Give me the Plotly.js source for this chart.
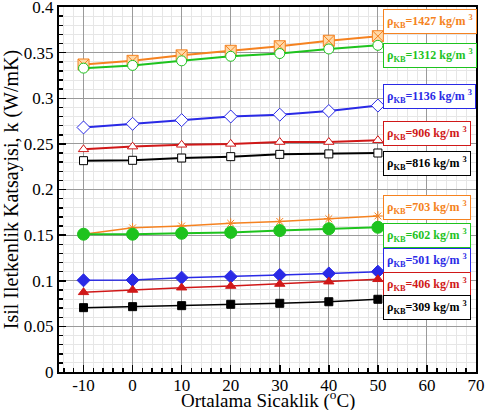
<!DOCTYPE html>
<html>
<head>
<meta charset="utf-8">
<script src="https://cdn.plot.ly/plotly-3.0.1.min.js"></script>
<style>html,body{margin:0;padding:0;background:#fff;}#chart{width:485px;height:410px;}</style>
</head>
<body>
<div id="chart"></div>
<script>
// Data
const temps = [-10, 0, 10, 20, 30, 40, 50];
const densities = [1427, 1312, 1136, 906, 816, 703, 602, 501, 406, 309];
const k1427 = [0.337, 0.341, 0.347, 0.352, 0.357, 0.363, 0.368];
const k1312 = [0.333, 0.336, 0.341, 0.346, 0.349, 0.354, 0.358];
const k1136 = [0.268, 0.272, 0.276, 0.280, 0.282, 0.286, 0.292];
const k906  = [0.244, 0.247, 0.249, 0.250, 0.252, 0.252, 0.254];
const k816  = [0.2316, 0.232, 0.2345, 0.236, 0.2385, 0.239, 0.240];
const k703  = [0.151, 0.158, 0.160, 0.163, 0.165, 0.168, 0.171];
const k602  = [0.151, 0.151, 0.152, 0.153, 0.155, 0.157, 0.1586];
const k501  = [0.1005, 0.1008, 0.1034, 0.1045, 0.1063, 0.108, 0.110];
const k406  = [0.0873, 0.0899, 0.0924, 0.0942, 0.0964, 0.099, 0.1016];
const k309  = [0.0705, 0.0716, 0.0727, 0.0742, 0.0753, 0.077, 0.0797];
const xTickVals = [-10, 0, 10, 20, 30, 40, 50, 60, 70];
const xTickText = ["-10", "0", "10", "20", "30", "40", "50", "60", "70"];
const xTitle = 'Ortalama Sicaklik (<sup>o</sup>C)';
const yTitle = 'Isil Iletkenlik Katsayisi, k (W/mK)';

const series = [k1427, k1312, k1136, k906, k816, k703, k602, k501, k406, k309];

// Styles
const ORANGE = '#f58220', GREEN = '#1ec31e', BLUE = '#2a2ae6', RED = '#d01818', BLACK = '#000000';
const styles = [
  {c: ORANGE, sym: 'square-x', fill: '#ffd9a8', size: 11, w: 2},
  {c: GREEN, sym: 'circle', fill: '#ffffff', size: 10, w: 2},
  {c: BLUE, sym: 'diamond', fill: '#ffffff', size: 10, w: 2},
  {c: RED, sym: 'triangle-up', fill: '#ffffff', size: 9, w: 2},
  {c: BLACK, sym: 'square', fill: '#ffffff', size: 8, w: 2},
  {c: ORANGE, sym: 'asterisk-open', fill: ORANGE, size: 8, w: 1.5},
  {c: GREEN, sym: 'circle', fill: GREEN, size: 12, w: 2},
  {c: BLUE, sym: 'diamond', fill: BLUE, size: 10, w: 1.5},
  {c: RED, sym: 'triangle-up', fill: RED, size: 9, w: 1.5},
  {c: BLACK, sym: 'square', fill: BLACK, size: 8, w: 1.5}
];
const labelY = [0.3836, 0.3474, 0.3014, 0.2619, 0.228, 0.1808, 0.1501, 0.1227, 0.0964, 0.0712];

const traces = series.map((vals, i) => ({
  x: temps, y: vals, type: 'scatter', mode: 'lines+markers',
  line: {color: styles[i].c, width: styles[i].w},
  marker: {symbol: styles[i].sym, size: styles[i].size, color: styles[i].fill,
           line: {color: styles[i].c, width: 1}},
  showlegend: false, hoverinfo: 'skip'
}));

const FONT = 'Liberation Serif, Times New Roman, Times, serif';
const annotations = densities.map((d, i) => ({
  xref: 'x', yref: 'y', x: 51.0, y: labelY[i], xanchor: 'left', yanchor: 'middle',
  text: '<b>ρ<sub>KB</sub>=' + d + ' kg/m <sup>3</sup></b>',
  showarrow: false, font: {family: FONT, size: 12, color: styles[i].c},
  bgcolor: '#ffffff', bordercolor: styles[i].c, borderwidth: 1, borderpad: 3
}));
annotations.push({
  xref: 'paper', yref: 'paper', x: 0.5, y: 0, xanchor: 'center', yanchor: 'bottom', yshift: -42,
  text: xTitle, showarrow: false, font: {family: FONT, size: 19, color: '#000'}
});

const layout = {
  width: 485, height: 410,
  margin: {l: 59, r: 9, t: 7, b: 38},
  paper_bgcolor: '#ffffff', plot_bgcolor: '#ffffff',
  font: {family: FONT, size: 16, color: '#000'},
  showlegend: false,
  xaxis: {
    range: [-15, 70], tickmode: 'array', tickvals: xTickVals, ticktext: xTickText,
    ticks: 'inside', ticklen: 7, tickwidth: 1.5, tickcolor: '#000',
    showline: true, linecolor: '#000', linewidth: 2, mirror: true,
    showgrid: true, gridcolor: '#9a9a9a', gridwidth: 1, zeroline: false,
    minor: {dtick: 2, ticks: 'inside', ticklen: 4, tickcolor: '#000', showgrid: true, gridcolor: '#e6e6e6', gridwidth: 1},
    tickfont: {family: FONT, size: 17}, ticklabeloverflow: 'allow', ticklabelstandoff: -3
  },
  yaxis: {
    range: [0, 0.4], dtick: 0.05, tick0: 0,
    ticks: 'inside', ticklen: 7, tickwidth: 1.5, tickcolor: '#000',
    showline: true, linecolor: '#000', linewidth: 2, mirror: true,
    showgrid: true, gridcolor: '#9a9a9a', gridwidth: 1, zeroline: false,
    minor: {dtick: 0.01, ticks: 'inside', ticklen: 4, tickcolor: '#000', showgrid: true, gridcolor: '#e6e6e6', gridwidth: 1},
    tickfont: {family: FONT, size: 17}, ticklabeloverflow: 'allow',
    title: {text: yTitle, font: {family: FONT, size: 20}, standoff: 4}
  },
  annotations: annotations
};

Plotly.newPlot('chart', traces, layout, {displayModeBar: false, staticPlot: true});
</script>
</body>
</html>
